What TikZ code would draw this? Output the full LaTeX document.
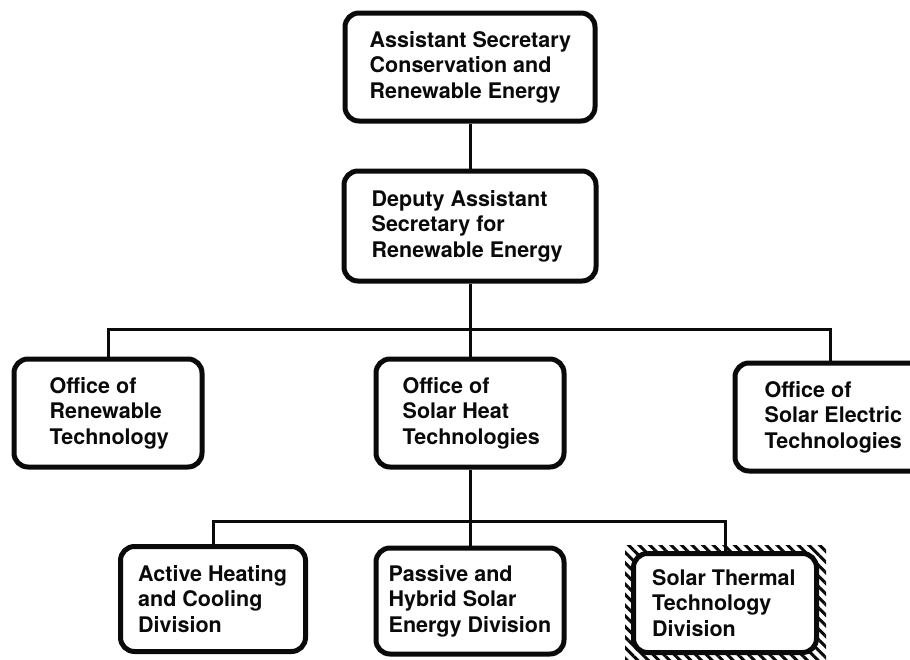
\documentclass[tikz,border=0pt]{standalone}
\usepackage{fontspec}
\setmainfont{TeX Gyre Heros}
\usetikzlibrary{patterns.meta}
\definecolor{inkBlack}{RGB}{10,10,10}

\begin{document}
\begin{tikzpicture}[x=1pt,y=-1pt]
\tikzstyle{every node}=[text=inkBlack]
\tikzstyle{orgbox}=[draw=inkBlack, line width=5pt, rounded corners=14pt, fill=white]
\tikzstyle{orgtext}=[font=\fontsize{21.5}{25.5}\selectfont\bfseries, align=left, inner sep=0pt, anchor=west]
\tikzstyle{link}=[draw=inkBlack, line width=3pt]

  \useasboundingbox (0,0) rectangle (910,659);

  % hatching round the solar thermal division
  \fill[pattern={Lines[angle=-45,distance=7.5pt,line width=3pt]}, pattern color=inkBlack] (625,545) rectangle (826,664);

  \node[orgbox, minimum width=250pt, minimum height=108pt] (asst) at (470,67) {};
  \node[orgbox, minimum width=252pt, minimum height=110pt] (dep) at (470,226) {};

  \node[orgbox, minimum width=188pt, minimum height=108pt] (ort) at (108,413) {};
  \node[orgbox, minimum width=188pt, minimum height=108pt] (osh) at (470,413) {};
  \node[orgbox, minimum width=190pt, minimum height=108pt] (ose) at (830,417) {};

  \node[orgbox, minimum width=185pt, minimum height=105pt] (ahc) at (213,599) {};
  \node[orgbox, minimum width=188pt, minimum height=106pt] (phs) at (470,601) {};
  \node[orgbox, minimum width=183pt, minimum height=99pt] (stt) at (725,603) {};

  \node[orgtext] (asst-t) at ([xshift=27pt]asst.west) {Assistant Secretary\\Conservation and\\Renewable Energy};
  \node[orgtext] (dep-t) at ([xshift=30pt]dep.west) {Deputy Assistant\\Secretary for\\Renewable Energy};
  \node[orgtext] (ort-t) at ([xshift=38pt]ort.west) {Office of\\Renewable\\Technology};
  \node[orgtext] (osh-t) at ([xshift=29pt]osh.west) {Office of\\Solar Heat\\Technologies};
  \node[orgtext] (ose-t) at ([xshift=32pt]ose.west) {Office of\\Solar Electric\\Technologies};
  \node[orgtext] (ahc-t) at ([xshift=20pt]ahc.west) {Active Heating\\and Cooling\\Division};
  \node[orgtext] (phs-t) at ([xshift=15pt]phs.west) {Passive and\\Hybrid Solar\\Energy Division};
  \node[orgtext] (stt-t) at ([xshift=21pt]stt.west) {Solar Thermal\\Technology\\Division};

  \path (dep.south) ++(0,46) coordinate (bus1);
  \path (osh.south) ++(0,52) coordinate (bus2);

  \draw[link] (asst.south) -- (dep.north);
  \draw[link] (dep.south) -- (osh.north);
  \draw[link] (ort.north) |- (bus1) -| (ose.north);
  \draw[link] (osh.south) -- (phs.north);
  \draw[link] (ahc.north) |- (bus2) -| (stt.north);

\end{tikzpicture}
\end{document}
